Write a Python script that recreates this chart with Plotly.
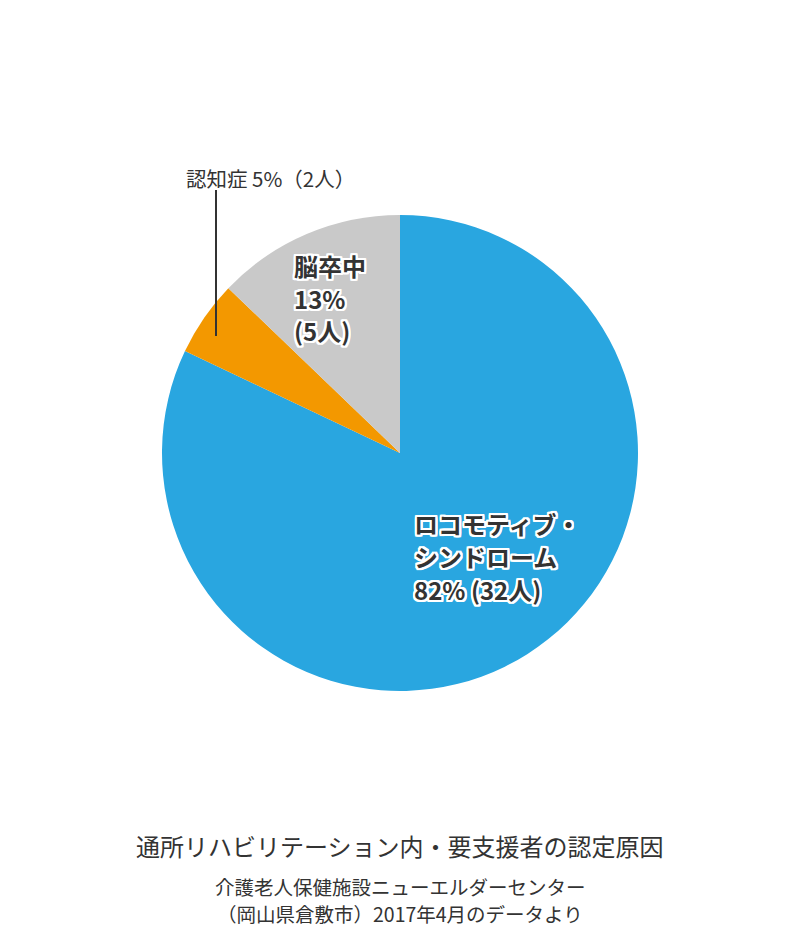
import plotly.graph_objects as go

# 認定原因の内訳（人数）
labels = ['ロコモティブ・シンドローム', '認知症', '脳卒中']
counts = [32, 2, 5]
percents = ['82%', '5%', '13%']
colors = ['#29a6e0', '#f39800', '#c9c9c9']

title = '通所リハビリテーション内・要支援者の認定原因'
source_lines = ['介護老人保健施設ニューエルダーセンター', '（岡山県倉敷市）2017年4月のデータより']

W, H = 800, 934
OFF = 8  # page body margin
FONT = 'Noto Sans CJK JP'
TXT = '#333333'
OUTLINE = ', '.join(f'{dx}px {dy}px 0 #fff' for dx in (-2, -1, 0, 1, 2) for dy in (-2, -1, 0, 1, 2))


def px(x, y):
    return (x - OFF) / W, 1 - (y - OFF) / H


x0, y0 = px(162, 215)
x1, y1 = px(638, 691)

fig = go.Figure(
    go.Pie(
        labels=labels,
        values=counts,
        sort=False,
        direction='clockwise',
        rotation=0,
        marker=dict(colors=colors, line=dict(width=0)),
        textinfo='none',
        hoverinfo='label+value+percent',
        showlegend=False,
        domain=dict(x=[x0, x1], y=[y1, y0]),
    )
)


def text_at(x, y, text, font, xanchor='left'):
    ax, ay = px(x, y)
    fig.add_annotation(x=ax, y=ay, xref='paper', yref='paper', xanchor=xanchor, yanchor='middle',
                       showarrow=False, font=font, text=text)


big = dict(family=FONT, size=24, color=TXT, weight='bold', shadow=OUTLINE)

loco = ['ロコモティブ・', 'シンドローム', '%s (%d人)' % (percents[0], counts[0])]
for i, t in enumerate(loco):
    text_at(412, 523 + 33 * i, t, big)

stroke = [labels[2], percents[2], '(%d人)' % counts[2]]
for i, t in enumerate(stroke):
    text_at(292, 265 + 33 * i, t, big)

text_at(184, 178, '%s %s（%d人）' % (labels[1], percents[1], counts[1]),
        dict(family=FONT, size=20.5, color=TXT))

lx, ly0 = px(216, 190)
_, ly1 = px(216, 336)
fig.add_shape(type='line', xref='paper', yref='paper', x0=lx, x1=lx, y0=ly0, y1=ly1,
              line=dict(color='#333333', width=2))

text_at(400, 845, title, dict(family=FONT, size=24, color=TXT), xanchor='center')
for i, t in enumerate(source_lines):
    text_at(400, 886 + 27 * i, t, dict(family=FONT, size=19.5, color=TXT), xanchor='center')

fig.update_layout(
    width=W,
    height=H,
    margin=dict(l=0, r=0, t=0, b=0),
    paper_bgcolor='white',
    plot_bgcolor='white',
)

fig.write_html('out.html')
